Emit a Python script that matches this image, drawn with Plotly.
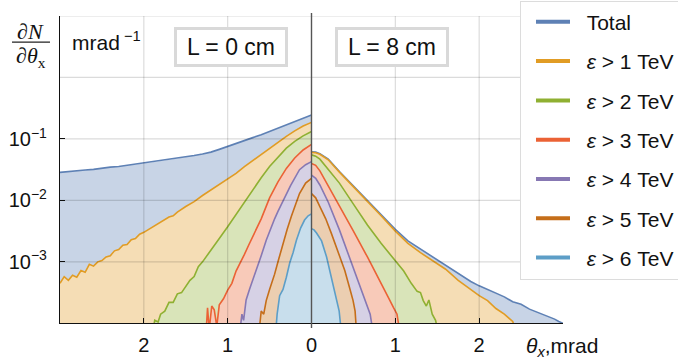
import plotly.graph_objects as go

# ---------------- data ----------------
series_names = ["Total", "<i>ε</i> &gt; 1 TeV", "<i>ε</i> &gt; 2 TeV", "<i>ε</i> &gt; 3 TeV",
                "<i>ε</i> &gt; 4 TeV", "<i>ε</i> &gt; 5 TeV", "<i>ε</i> &gt; 6 TeV"]
line_colors = ["#5e81b5", "#e19c24", "#8fb032", "#eb6235", "#8778b3", "#c56e1a", "#5d9ec7"]
fill_colors = ["#c8d4e6", "#f5ddb5", "#d9e4b9", "#f8cab9", "#d6d1e5", "#ebceb1", "#c8deec"]

# L = 0 cm (left half, drawn mirrored at negative theta)
total_L_x = [-3.0, -2.9, -2.8, -2.7, -2.6, -2.5, -2.4, -2.3, -2.2, -2.1, -2.0, -1.9, -1.8, -1.7, -1.6,
             -1.5, -1.4, -1.3, -1.2, -1.1, -1.0, -0.9, -0.8, -0.7, -0.6, -0.5, -0.4, -0.3, -0.2, -0.1, 0.0]
total_L_y = [0.0286, 0.0292, 0.0302, 0.0313, 0.0320, 0.0335, 0.0347, 0.0355, 0.0372, 0.0385, 0.0401,
             0.0417, 0.0437, 0.0457, 0.0479, 0.0507, 0.0537, 0.0569, 0.0610, 0.0676, 0.0750, 0.0832,
             0.0933, 0.105, 0.117, 0.132, 0.148, 0.168, 0.191, 0.219, 0.245]

e1_L_x = [-3.0, -2.95, -2.9, -2.85, -2.8, -2.75, -2.7, -2.65, -2.6, -2.55, -2.5, -2.45, -2.4, -2.35,
          -2.3, -2.25, -2.2, -2.15, -2.1, -2.05, -2.0, -1.95, -1.9, -1.85, -1.8, -1.75, -1.7, -1.65,
          -1.6, -1.5, -1.4, -1.3, -1.2, -1.1, -1.0, -0.9, -0.8, -0.7, -0.6, -0.5, -0.4, -0.3, -0.2,
          -0.1, 0.0]
e1_L_y = [4.47e-4, 5.75e-4, 5.01e-4, 6.03e-4, 5.62e-4, 7.24e-4, 6.76e-4, 9.12e-4, 8.51e-4, 1.00e-3,
          1.05e-3, 1.20e-3, 1.26e-3, 1.51e-3, 1.58e-3, 1.86e-3, 1.91e-3, 2.29e-3, 2.40e-3, 2.82e-3,
          3.02e-3, 3.31e-3, 3.72e-3, 3.98e-3, 4.47e-3, 4.79e-3, 5.37e-3, 5.62e-3, 6.46e-3, 7.94e-3,
          9.55e-3, 1.20e-2, 1.48e-2, 1.78e-2, 2.19e-2, 2.75e-2, 3.55e-2, 4.47e-2, 5.62e-2, 7.08e-2,
          8.91e-2, 0.110, 0.135, 0.162, 0.186]

e2_L_x = [-1.9, -1.87, -1.83, -1.8, -1.75, -1.7, -1.65, -1.6, -1.55, -1.5, -1.45, -1.4, -1.35, -1.3,
          -1.25, -1.2, -1.1, -1.0, -0.9, -0.8, -0.7, -0.6, -0.5, -0.4, -0.3, -0.2, -0.1, 0.0]
e2_L_y = [6.3e-5, 1.12e-4, 1.05e-4, 1.41e-4, 1.58e-4, 2.19e-4, 2.19e-4, 3.02e-4, 3.16e-4, 3.98e-4,
          5.01e-4, 5.75e-4, 8.32e-4, 1.00e-3, 1.26e-3, 1.58e-3, 2.40e-3, 3.72e-3, 5.89e-3, 9.55e-3,
          1.51e-2, 2.34e-2, 3.55e-2, 5.01e-2, 7.08e-2, 9.12e-2, 0.112, 0.132]

e3_L_x = [-1.26, -1.24, -1.22, -1.19, -1.16, -1.13, -1.1, -1.05, -1.0, -0.95, -0.9, -0.85, -0.8,
          -0.75, -0.7, -0.6, -0.5, -0.4, -0.3, -0.2, -0.1, 0.0]
e3_L_y = [6.3e-5, 1.78e-4, 7.9e-5, 1.91e-4, 1.66e-4, 8.9e-5, 2.00e-4, 2.51e-4, 3.47e-4, 4.47e-4,
          7.08e-4, 1.00e-3, 1.32e-3, 1.86e-3, 2.63e-3, 5.01e-3, 1.10e-2, 2.00e-2, 3.31e-2, 4.90e-2,
          6.61e-2, 8.13e-2]

e4_L_x = [-0.86, -0.83, -0.81, -0.78, -0.74, -0.7, -0.65, -0.6, -0.54, -0.5, -0.44, -0.4, -0.34,
          -0.25, -0.143, -0.07, 0.0]
e4_L_y = [6.3e-5, 1.41e-4, 1.12e-4, 2.40e-4, 3.55e-4, 5.01e-4, 7.59e-4, 1.26e-3, 2.24e-3, 3.16e-3,
          5.01e-3, 6.61e-3, 1.00e-2, 1.74e-2, 3.16e-2, 3.80e-2, 4.27e-2]

e5_L_x = [-0.63, -0.6, -0.57, -0.54, -0.5, -0.44, -0.39, -0.34, -0.29, -0.24, -0.19, -0.143, -0.07, 0.0]
e5_L_y = [6.3e-5, 1.58e-4, 1.41e-4, 2.34e-4, 3.55e-4, 6.31e-4, 1.12e-3, 2.00e-3, 3.39e-3, 5.50e-3,
          8.51e-3, 1.29e-2, 1.91e-2, 2.29e-2]

e6_L_x = [-0.43, -0.41, -0.38, -0.34, -0.3, -0.26, -0.22, -0.18, -0.13, -0.083, -0.04, 0.0]
e6_L_y = [6.3e-5, 1.41e-4, 2.82e-4, 3.55e-4, 5.62e-4, 9.55e-4, 1.41e-3, 2.24e-3, 3.55e-3, 4.79e-3,
          5.62e-3, 6.03e-3]

# L = 8 cm (right half)
total_R_x = [0.0, 0.05, 0.1, 0.2, 0.333, 0.5, 0.667, 0.83, 1.0, 1.15, 1.3, 1.45, 1.6, 1.75, 1.9, 2.0,
             2.1, 2.2, 2.3, 2.4, 2.5, 2.6, 2.7, 2.8, 2.9, 2.95, 3.0]
total_R_y = [6.17e-2, 6.10e-2, 5.75e-2, 4.68e-2, 2.95e-2, 1.72e-2, 1.00e-2, 5.89e-3, 3.39e-3, 2.19e-3,
             1.62e-3, 1.20e-3, 8.71e-4, 6.61e-4, 4.79e-4, 4.07e-4, 3.55e-4, 3.02e-4, 2.69e-4, 2.24e-4,
             2.04e-4, 1.70e-4, 1.51e-4, 1.32e-4, 1.17e-4, 1.07e-4, 1.00e-4]

e1_R_x = [0.0, 0.05, 0.1, 0.2, 0.333, 0.5, 0.667, 0.83, 1.0, 1.15, 1.3, 1.45, 1.6, 1.75, 1.9, 2.0,
          2.1, 2.2, 2.3, 2.4, 2.46]
e1_R_y = [6.03e-2, 5.96e-2, 5.62e-2, 4.57e-2, 2.88e-2, 1.68e-2, 9.77e-3, 5.62e-3, 3.16e-3, 2.00e-3,
          1.41e-3, 1.05e-3, 7.59e-4, 5.01e-4, 3.55e-4, 2.82e-4, 2.34e-4, 1.74e-4, 1.41e-4, 1.07e-4, 6.3e-5]

e2_R_x = [0.0, 0.05, 0.1, 0.2, 0.333, 0.5, 0.667, 0.83, 1.0, 1.1, 1.19, 1.26, 1.3, 1.333, 1.37, 1.4,
          1.44, 1.48, 1.52]
e2_R_y = [5.50e-2, 5.25e-2, 4.68e-2, 3.24e-2, 1.91e-2, 8.71e-3, 3.98e-3, 2.00e-3, 1.05e-3, 7.08e-4,
          4.47e-4, 3.31e-4, 3.16e-4, 2.34e-4, 1.91e-4, 2.40e-4, 1.41e-4, 1.12e-4, 6.3e-5]

e3_R_x = [0.0, 0.05, 0.1, 0.2, 0.333, 0.5, 0.667, 0.8, 0.913, 0.98, 1.02, 1.06]
e3_R_y = [3.98e-2, 3.72e-2, 3.02e-2, 1.74e-2, 7.94e-3, 3.16e-3, 1.20e-3, 5.50e-4, 2.69e-4, 1.78e-4,
          1.41e-4, 6.3e-5]

e4_R_x = [0.0, 0.05, 0.1, 0.2, 0.333, 0.46, 0.595, 0.65, 0.7, 0.74]
e4_R_y = [2.57e-2, 2.29e-2, 1.78e-2, 9.33e-3, 3.31e-3, 1.12e-3, 3.47e-4, 2.24e-4, 1.41e-4, 6.3e-5]

e5_R_x = [0.0, 0.05, 0.1, 0.17, 0.238, 0.32, 0.397, 0.45, 0.496, 0.52, 0.54]
e5_R_y = [1.29e-2, 1.10e-2, 7.94e-3, 5.01e-3, 2.88e-3, 1.41e-3, 7.24e-4, 3.98e-4, 2.34e-4, 1.58e-4, 6.3e-5]

e6_R_x = [0.0, 0.03, 0.06, 0.12, 0.18, 0.238, 0.29, 0.33, 0.36]
e6_R_y = [3.47e-3, 3.31e-3, 2.95e-3, 2.19e-3, 1.20e-3, 5.62e-4, 2.82e-4, 1.58e-4, 6.3e-5]

x_tickvals = [-2, -1, 0, 1, 2, 3]
x_ticktext = ["2", "1", "0", "1", "2", ""]
y_tickvals = [1e-3, 1e-2, 1e-1]
y_ticktext = ["10<sup>−3</sup>", "10<sup>−2</sup>", "10<sup>−1</sup>"]
grid_x = [-2, -1, 1, 2]
grid_y = [1e-3, 1e-2, 1e-1, 1, 10]

left_series = [(total_L_x, total_L_y), (e1_L_x, e1_L_y), (e2_L_x, e2_L_y), (e3_L_x, e3_L_y),
               (e4_L_x, e4_L_y), (e5_L_x, e5_L_y), (e6_L_x, e6_L_y)]
right_series = [(total_R_x, total_R_y), (e1_R_x, e1_R_y), (e2_R_x, e2_R_y), (e3_R_x, e3_R_y),
                (e4_R_x, e4_R_y), (e5_R_x, e5_R_y), (e6_R_x, e6_R_y)]

FONT = "Liberation Sans, Arial, sans-serif"
SERIF = "Liberation Serif, Times New Roman, serif"

fig = go.Figure()

# fills (opaque, drawn from the widest curve to the narrowest)
for i in range(7):
    for xs, ys in (left_series[i], right_series[i]):
        fig.add_trace(go.Scatter(x=xs, y=ys, mode="none", fill="tozeroy",
                                 fillcolor=fill_colors[i], showlegend=False, hoverinfo="skip"))

# curves
for i in range(7):
    for xs, ys in (left_series[i], right_series[i]):
        fig.add_trace(go.Scatter(x=xs, y=ys, mode="lines", showlegend=False,
                                 line=dict(color=line_colors[i], width=1.6)))

# legend entries (thicker line samples)
for i in range(7):
    fig.add_trace(go.Scatter(x=[None], y=[None], mode="lines",
                             name="&nbsp;&nbsp;" + series_names[i],
                             legendgroup="g%d" % i,
                             line=dict(color=line_colors[i], width=4)))

shapes = []
for gx in grid_x:
    shapes.append(dict(type="line", xref="x", yref="paper", x0=gx, x1=gx, y0=0, y1=1,
                       line=dict(color="rgba(0,0,0,0.14)", width=1.2), layer="above"))
for gy in grid_y:
    shapes.append(dict(type="line", xref="paper", yref="y", x0=0, x1=1, y0=gy, y1=gy,
                       line=dict(color="rgba(0,0,0,0.14)", width=1.2), layer="above"))
# central divider
shapes.append(dict(type="line", xref="x", yref="paper", x0=0, x1=0, y0=-0.016, y1=1.01,
                   line=dict(color="#555555", width=1.4), layer="above"))
# fraction bar of the y label
shapes.append(dict(type="line", xref="paper", yref="paper", x0=-0.0954, x1=-0.0199,
                   y0=0.915, y1=0.915, line=dict(color="#222", width=1.2)))

annotations = [
    dict(text="∂<i>N</i>", xref="paper", yref="paper", x=-0.0577, y=0.948, showarrow=False,
         xanchor="center", yanchor="middle",
         font=dict(family=SERIF, size=22, color="#111")),
    dict(text="∂<i>θ</i><sub>x</sub>", xref="paper", yref="paper", x=-0.0577, y=0.868,
         xanchor="center", yanchor="middle",
         showarrow=False, font=dict(family=SERIF, size=22, color="#111")),
    dict(text="mrad<sup> −1</sup>", xref="paper", yref="paper", x=0.0915, y=0.917,
         xanchor="center", yanchor="middle",
         showarrow=False, font=dict(family=FONT, size=21, color="#111")),
    dict(text="L = 0 cm", xref="x", yref="paper", x=-0.958, y=0.899, showarrow=False,
         xanchor="center", yanchor="middle",
         font=dict(family=FONT, size=23, color="#111"), bgcolor="white",
         bordercolor="#d9d9d9", borderwidth=3, borderpad=1, width=106, height=32),
    dict(text="L = 8 cm", xref="x", yref="paper", x=0.958, y=0.899, showarrow=False,
         xanchor="center", yanchor="middle",
         font=dict(family=FONT, size=23, color="#111"), bgcolor="white",
         bordercolor="#d9d9d9", borderwidth=3, borderpad=1, width=106, height=32),
    dict(text="<i>θ<sub>x</sub></i>,mrad", xref="paper", yref="paper", x=0.998, y=-0.078,
         xanchor="center", yanchor="middle",
         showarrow=False, font=dict(family=FONT, size=21, color="#111")),
]

fig.update_layout(
    width=678, height=363,
    margin=dict(l=60, r=115, t=16, b=40, autoexpand=False),
    paper_bgcolor="white", plot_bgcolor="white",
    font=dict(family=FONT, size=20, color="#111"),
    shapes=shapes, annotations=annotations,
    legend=dict(x=0.9145, y=1.05, xanchor="left", yanchor="top",
                bgcolor="white", bordercolor="#dcdcdc", borderwidth=1,
                font=dict(family=FONT, size=21, color="#111"), tracegroupgap=9,
                itemwidth=34, indentation=10, maxheight=360),
    xaxis=dict(range=[-3, 3], showgrid=False, zeroline=False, showline=True,
               linecolor="#111", linewidth=1.3, ticks="inside", ticklen=5,
               tickcolor="#111", tickvals=x_tickvals, ticktext=x_ticktext,
               ticklabelstandoff=4, layer="above traces"),
    yaxis=dict(type="log", range=[-3.995, 1.0], showgrid=False, zeroline=False,
               showline=True, linecolor="#111", linewidth=1.3, ticks="inside",
               ticklen=5, tickcolor="#111", tickvals=y_tickvals, ticktext=y_ticktext,
               ticklabelstandoff=8, layer="above traces"),
)

fig.write_html("out.html")
